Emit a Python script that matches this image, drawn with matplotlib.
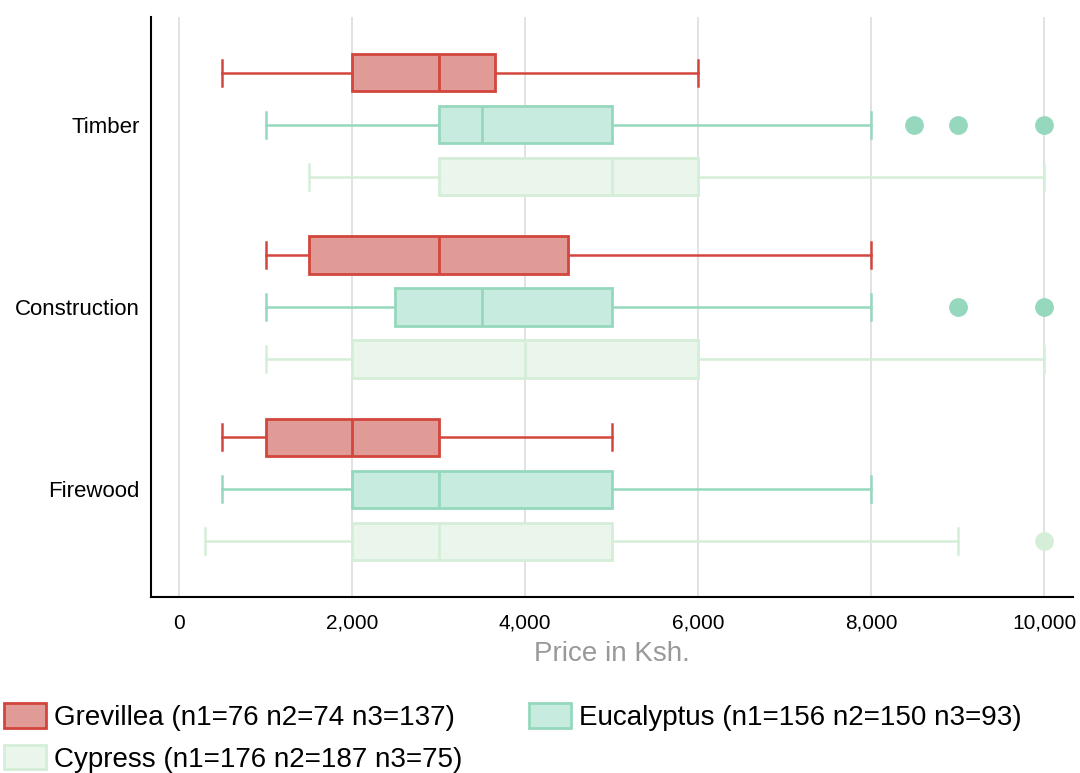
import matplotlib.pyplot as plt
from matplotlib.patches import Patch

plt.rcParams['font.family'] = ['Liberation Sans', 'DejaVu Sans']

# uses (bottom to top on the chart)
uses = ['Firewood', 'Construction', 'Timber']
species = ['Grevillea', 'Eucalyptus', 'Cypress']
legend_labels = ['Grevillea (n1=76 n2=74 n3=137)',
                 'Eucalyptus (n1=156 n2=150 n3=93)',
                 'Cypress (n1=176 n2=187 n3=75)']

# five-number summaries per species, order: Firewood, Construction, Timber
# (low whisker, q1, median, q3, high whisker)
grevillea = [(500, 1000, 2000, 3000, 5000),
             (1000, 1500, 3000, 4500, 8000),
             (500, 2000, 3000, 3650, 6000)]
eucalyptus = [(500, 2000, 3000, 5000, 8000),
              (1000, 2500, 3500, 5000, 8000),
              (1000, 3000, 3500, 5000, 8000)]
cypress = [(300, 2000, 3000, 5000, 9000),
           (1000, 2000, 4000, 6000, 10000),
           (1500, 3000, 5000, 6000, 10000)]

# outlier prices
grevillea_fliers = [[], [], []]
eucalyptus_fliers = [[], [9000, 10000], [8500, 9000, 10000]]
cypress_fliers = [[10000], [], []]

edge_colors = ['#d2463d', '#95d8bd', '#d5eed8']
face_colors = ['#e09b97', '#c7ebde', '#eaf6eb']
offsets = [0.285, 0.0, -0.285]

fig = plt.figure(figsize=(10.8, 7.73), dpi=100)
ax = fig.add_axes([0.1398, 0.2277, 0.8537, 0.7503])

all_summaries = [grevillea, eucalyptus, cypress]
all_fliers = [grevillea_fliers, eucalyptus_fliers, cypress_fliers]

for k in range(3):
    stats = []
    for i in range(3):
        lo, q1, med, q3, hi = all_summaries[k][i]
        stats.append({'whislo': lo, 'q1': q1, 'med': med, 'q3': q3,
                      'whishi': hi, 'fliers': all_fliers[k][i]})
    positions = [i + offsets[k] for i in range(3)]
    ec = edge_colors[k]
    ax.bxp(stats, positions=positions, widths=0.205, capwidths=0.142,
           vert=False, patch_artist=True, manage_ticks=False,
           boxprops=dict(facecolor=face_colors[k], edgecolor=ec, linewidth=2.0),
           medianprops=dict(color=ec, linewidth=2.0),
           whiskerprops=dict(color=ec, linewidth=1.8),
           capprops=dict(color=ec, linewidth=1.8),
           flierprops=dict(marker='o', markerfacecolor=ec, markeredgecolor=ec,
                           markersize=12.5, linestyle='none'))

ax.set_xlim(-324, 10335)
ax.set_ylim(-0.59, 2.59)
ax.set_xticks([0, 2000, 4000, 6000, 8000, 10000])
ax.set_xticklabels(['0', '2,000', '4,000', '6,000', '8,000', '10,000'])
ax.set_yticks([0, 1, 2])
ax.set_yticklabels(uses)
ax.tick_params(axis='x', length=0, labelsize=15, pad=12)
ax.tick_params(axis='y', length=0, labelsize=16, pad=8)
ax.grid(axis='x', color='#dddddd', linewidth=1.2)
ax.set_axisbelow(True)
for side in ['top', 'right']:
    ax.spines[side].set_visible(False)
for side in ['left', 'bottom']:
    ax.spines[side].set_linewidth(1.5)
ax.set_xlabel('Price in Ksh.', fontsize=20, color='#999999', labelpad=6)

handles = [Patch(facecolor=face_colors[k], edgecolor=edge_colors[k], linewidth=2)
           for k in range(3)]
order = [0, 2, 1]
fig.legend([handles[i] for i in order], [legend_labels[i] for i in order],
           ncol=2, loc='lower left', bbox_to_anchor=(-0.0115, -0.021),
           frameon=False, fontsize=20, handlelength=1.5, handleheight=1.0,
           columnspacing=2.4, handletextpad=0.3, labelspacing=0.5,
           borderaxespad=0.2)

fig.savefig('out.png', dpi=100)
